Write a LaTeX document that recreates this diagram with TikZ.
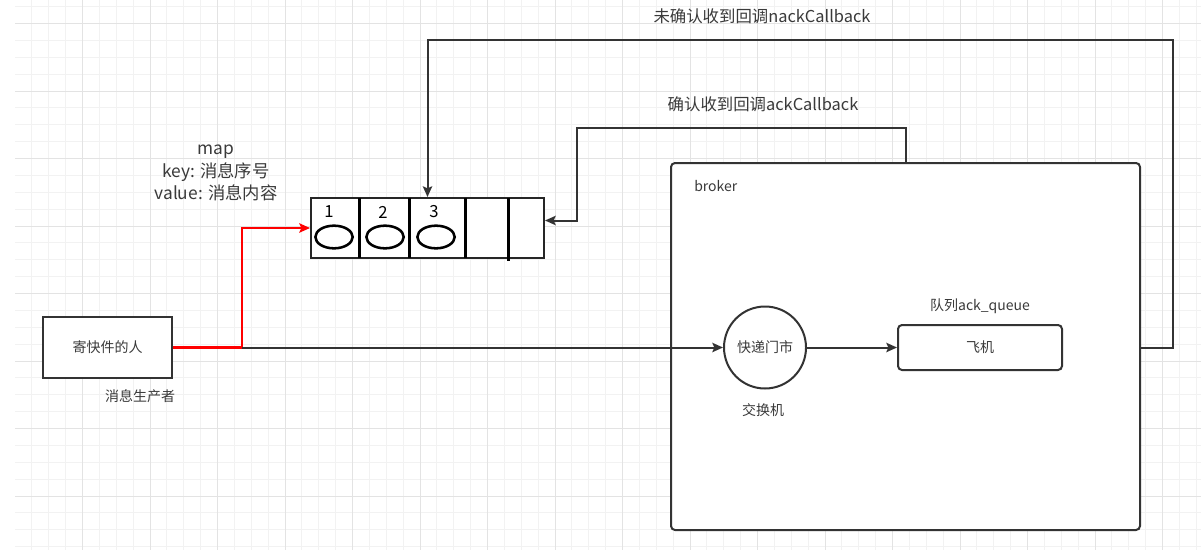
\documentclass[tikz,border=0pt]{standalone}
\usepackage{fontspec}
\setmainfont{Noto Sans CJK SC}
\usetikzlibrary{arrows.meta,calc,shapes.geometric}
\definecolor{gmin}{HTML}{F2F2F2}
\definecolor{gmaj}{HTML}{E3E3E3}
\definecolor{ink}{HTML}{333333}
\definecolor{txt}{HTML}{3A3A3A}
\begin{document}
\begin{tikzpicture}[x=0.75pt,y=-0.75pt,
  lbl/.style={text=txt,inner sep=0pt,font=\fontsize{10.5pt}{12pt}\selectfont},
  biglbl/.style={text=txt,inner sep=0pt,font=\fontsize{12.3pt}{14pt}\selectfont},
  box/.style={draw=ink,line width=1.5pt,fill=white,inner sep=0pt},
  cell/.style={inner sep=0pt,minimum height=45pt},
  egg/.style={ellipse,draw=black,line width=1.9pt,minimum width=28pt,minimum height=17pt,inner sep=0pt},
  digit/.style={inner sep=0pt,text=black,font=\fontsize{12.5pt}{14pt}\selectfont},
  conn/.style={draw=ink,line width=1.5pt,-{Stealth[length=8pt,width=7pt,inset=1.5pt]}},
  redconn/.style={draw=red,line width=1.6pt,-{Stealth[length=8pt,width=7pt,inset=1.5pt]}}]
\useasboundingbox (0,0) rectangle (1201,550);
\fill[white] (0,0) rectangle (1201,550);
% grid
\foreach \i in {1,...,70} {\draw[gmin,line width=0.75pt] ({15+16.875*\i},0) -- ({15+16.875*\i},550);}
\foreach \j in {0,...,32} {\draw[gmin,line width=0.75pt] (15,{6.7+16.875*\j}) -- (1201,{6.7+16.875*\j});}
\foreach \i in {1,...,17} {\draw[gmaj,line width=0.75pt] ({15+67.5*\i},0) -- ({15+67.5*\i},550);}
\foreach \j in {0,...,7} {\draw[gmaj,line width=0.75pt] (15,{23.5+67.5*\j}) -- (1201,{23.5+67.5*\j});}

% broker
\node[box,rounded corners=3pt,minimum width=351.75pt,minimum height=275.25pt] (br) at (905.5,346.5) {};
\node[lbl,anchor=west] (brl) at (694,186) {broker};

% producer
\node[box,minimum width=96.75pt,minimum height=45.75pt] (p) at (107.5,347.5) {};
\node[lbl] (pt) at (p.center) {寄快件的人};
\node[lbl] (pl) at (140,396) {消息生产者};

% exchange
\node[circle,draw=ink,line width=1.5pt,fill=white,minimum size=61.5pt,inner sep=0pt] (ex) at (765,347.5) {};
\node[lbl] (ext) at (ex.center) {快递门市};
\node[lbl] (exl) at (763,410) {交换机};

% queue
\node[box,rounded corners=3pt,minimum width=123pt,minimum height=33.75pt] (pln) at (980,347.5) {};
\node[lbl] (plnt) at (pln.center) {飞机};
\node[lbl] (plnl) at (980,306) {队列ack\_queue};

% map array
\node[draw=black!85,line width=1.5pt,fill=white,minimum width=174.75pt,minimum height=45pt,inner sep=0pt] (q) at (427.5,228) {};
\node[cell,minimum width=36pt] (c1) at (335,228) {};
\node[cell,minimum width=37.5pt] (c2) at (384,228) {};
\node[cell,minimum width=42pt] (c3) at (437,228) {};
\node[cell,minimum width=32.25pt] (c4) at (486.5,228) {};
\node[cell,minimum width=27pt] (c5) at (526,228) {};
\draw[black,line width=2.1pt] (c1.north east) -- (c1.south east);
\draw[black,line width=2.1pt] (c2.north east) -- (c2.south east);
\draw[black,line width=2.1pt] (c3.north east) -- (c3.south east);
\draw[black,line width=2.3pt] (c4.north east) -- ($(c4.south east)+(0,3)$);
\node[egg] (e1) at (334,237) {};
\node[egg] (e2) at (385,237) {};
\node[egg] (e3) at (436,237) {};
\node[digit] (d1) at (329,212) {1};
\node[digit] (d2) at (383,212) {2};
\node[digit] (d3) at (434,212) {3};

\node[text=txt,inner sep=0pt,align=center,font=\fontsize{13pt}{17pt}\selectfont] (mapl) at (216,173) {map\\key: 消息序号\\value: 消息内容};

% connectors
\coordinate (jn) at (242,347.5);
\draw[redconn] (p.east) -- (jn) |- (q.west);
\draw[conn] (jn) -- (ex.west);
\draw[conn] (ex.east) -- (pln.west);

\coordinate (n1) at (1173,40);
\draw[conn] (br.east |- ex.center) -| (n1) -| (q.north);
\node[biglbl] (nackl) at (762,16) {未确认收到回调nackCallback};

\coordinate (a1) at (577,128);
\draw[conn] (br.north) |- (a1) |- ($(q.east)+(0,-7.5)$);
\node[biglbl] (ackl) at (763,104) {确认收到回调ackCallback};
\end{tikzpicture}
\end{document}
